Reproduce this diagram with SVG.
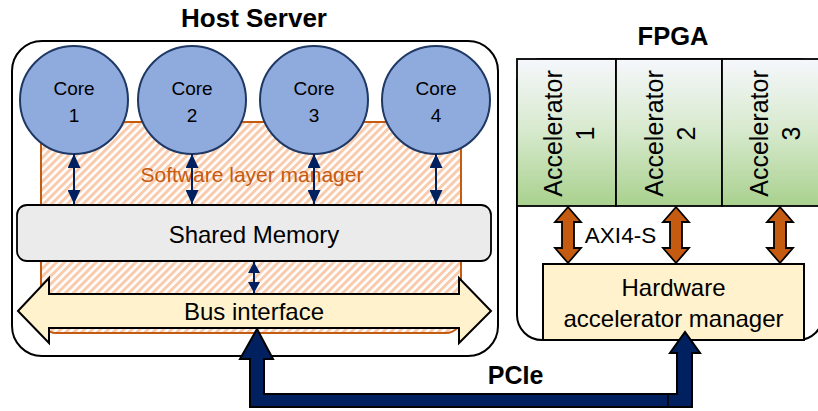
<svg xmlns="http://www.w3.org/2000/svg" width="818" height="411" viewBox="0 0 818 411">
  <style>
    text { font-family: "Liberation Sans", Arial, sans-serif; fill: #000; }
    .title { font-weight: bold; font-size: 26px; text-anchor: middle; }
    .core { font-size: 19px; text-anchor: middle; }
    .big { font-size: 24px; text-anchor: middle; }
    .acc { font-size: 25px; text-anchor: middle; }
    .outline { fill: #fff; stroke: #000; stroke-width: 2; }
    .corecircle { fill: #8FAADC; stroke: #1F3864; stroke-width: 2; }
    .accel { fill: url(#accGrad); stroke: #000; stroke-width: 1.8; }
    .yellow { fill: #FFF2CC; stroke: #000; stroke-width: 2; }
    .link { stroke: #002060; stroke-width: 2; fill: none; marker-start: url(#navyHead); marker-end: url(#navyHead); }
    .link.small { marker-start: url(#navyHeadSmall); marker-end: url(#navyHeadSmall); }
    .axi { fill: #C55A11; stroke: #000; stroke-width: 1.8; stroke-linejoin: miter; }
    .pcie { fill: #002060; stroke: #000; stroke-width: 2; stroke-linejoin: miter; }
  </style>
  <defs>
    <pattern id="hatch" patternUnits="userSpaceOnUse" width="5.6" height="5.6" patternTransform="rotate(45)">
      <rect width="5.6" height="5.6" fill="#fff"/>
      <rect x="0" y="0" width="3" height="5.6" fill="#F8CBAD"/>
    </pattern>
    <linearGradient id="accGrad" x1="0" y1="0" x2="0" y2="1">
      <stop offset="0" stop-color="#F6F7FC"/>
      <stop offset="0.5" stop-color="#D6E9CC"/>
      <stop offset="1" stop-color="#A9D18E"/>
    </linearGradient>
    <marker id="navyHead" markerUnits="userSpaceOnUse" viewBox="0 0 14 13" refX="14" refY="6.5" markerWidth="14" markerHeight="13" orient="auto-start-reverse">
      <path d="M0,0 L14,6.5 L0,13 z" fill="#002060"/>
    </marker>
    <marker id="navyHeadSmall" markerUnits="userSpaceOnUse" viewBox="0 0 11 12" refX="11" refY="6" markerWidth="11" markerHeight="12" orient="auto-start-reverse">
      <path d="M0,0 L11,6 L0,12 z" fill="#002060"/>
    </marker>
    <!-- vertical double block arrow, 56 tall, centred on x = 0 -->
    <path id="axiArrow" class="axi" d="M0,0 L13,15 L6,15 L6,41 L13,41 L0,56 L-13,41 L-6,41 L-6,15 L-13,15 z"/>
  </defs>

  <!-- Host server -->
  <g id="host-server">
    <text class="title" x="254" y="27">Host Server</text>
    <rect class="outline" x="12" y="41" width="486" height="315" rx="30" ry="30"/>
  </g>

  <g id="software-layer-manager">
    <rect x="41" y="122" width="420" height="211" rx="15" ry="15" fill="url(#hatch)" stroke="#C55A11" stroke-width="2"/>
    <text x="252" y="182" font-size="21" text-anchor="middle" style="fill:#C55A11">Software layer manager</text>
  </g>

  <g id="shared-memory">
    <rect x="17" y="205" width="474" height="56" rx="10" ry="10" fill="#EBEBEB" stroke="#000" stroke-width="1.8"/>
    <text class="big" x="254" y="243">Shared Memory</text>
  </g>

  <g id="bus-interface">
    <path class="yellow" d="M18,311 L49,278 L49,294 L459,294 L459,278 L491,311 L459,343 L459,328 L49,328 L49,343 z"/>
    <text class="big" x="254" y="320">Bus interface</text>
  </g>

  <g id="core-1">
    <circle class="corecircle" cx="74" cy="100" r="54"/>
    <text class="core" x="74" y="95">Core</text>
    <text class="core" x="74" y="122">1</text>
  </g>
  <g id="core-2">
    <circle class="corecircle" cx="192" cy="100" r="54"/>
    <text class="core" x="192" y="95">Core</text>
    <text class="core" x="192" y="122">2</text>
  </g>
  <g id="core-3">
    <circle class="corecircle" cx="314" cy="100" r="54"/>
    <text class="core" x="314" y="95">Core</text>
    <text class="core" x="314" y="122">3</text>
  </g>
  <g id="core-4">
    <circle class="corecircle" cx="436" cy="100" r="54"/>
    <text class="core" x="436" y="95">Core</text>
    <text class="core" x="436" y="122">4</text>
  </g>

  <!-- FPGA -->
  <g id="fpga">
    <text class="title" x="673" y="45" style="font-size:25.5px">FPGA</text>
    <rect class="outline" x="517" y="59" width="306" height="281" rx="25" ry="25"/>
  </g>

  <g id="accelerator-1">
    <rect class="accel" x="517" y="59" width="99" height="147"/>
    <text class="acc" transform="translate(562,133.5) rotate(-90)">Accelerator</text>
    <text class="acc" transform="translate(594,133.5) rotate(-90)">1</text>
  </g>
  <g id="accelerator-2">
    <rect class="accel" x="616" y="59" width="106" height="147"/>
    <text class="acc" transform="translate(663,133.5) rotate(-90)">Accelerator</text>
    <text class="acc" transform="translate(695,133.5) rotate(-90)">2</text>
  </g>
  <g id="accelerator-3">
    <rect class="accel" x="722" y="59" width="104" height="147"/>
    <text class="acc" transform="translate(768,133.5) rotate(-90)">Accelerator</text>
    <text class="acc" transform="translate(800,133.5) rotate(-90)">3</text>
  </g>

  <g id="hardware-accelerator-manager">
    <rect class="yellow" x="543" y="264" width="261" height="76"/>
    <text class="big" x="673.5" y="296">Hardware</text>
    <text class="big" x="673.5" y="327">accelerator manager</text>
  </g>

  <!-- Connectors -->
  <g id="connectors">
    <line class="link" x1="74" y1="154" x2="74" y2="204"/>
    <line class="link" x1="192" y1="154" x2="192" y2="204"/>
    <line class="link" x1="314" y1="154" x2="314" y2="204"/>
    <line class="link" x1="436" y1="154" x2="436" y2="204"/>
    <line class="link small" x1="254" y1="262" x2="254" y2="293"/>

    <use href="#axiArrow" x="568" y="207"/>
    <use href="#axiArrow" x="676" y="207"/>
    <use href="#axiArrow" x="780" y="207"/>
    <text x="620.5" y="243" font-size="22.5" text-anchor="middle">AXI4-S</text>

    <path class="pcie" d="M257,329 L273,359 L264,359 L264,394 L677,394 L677,353 L670,353 L685,332 L700,353 L692,353 L692,407 L250,407 L250,359 L240,359 z"/>
    <line x1="668" y1="394" x2="668" y2="407" stroke="#000" stroke-width="1.5"/>
    <text x="515.5" y="384" font-size="25" font-weight="bold" text-anchor="middle">PCIe</text>
  </g>
</svg>
